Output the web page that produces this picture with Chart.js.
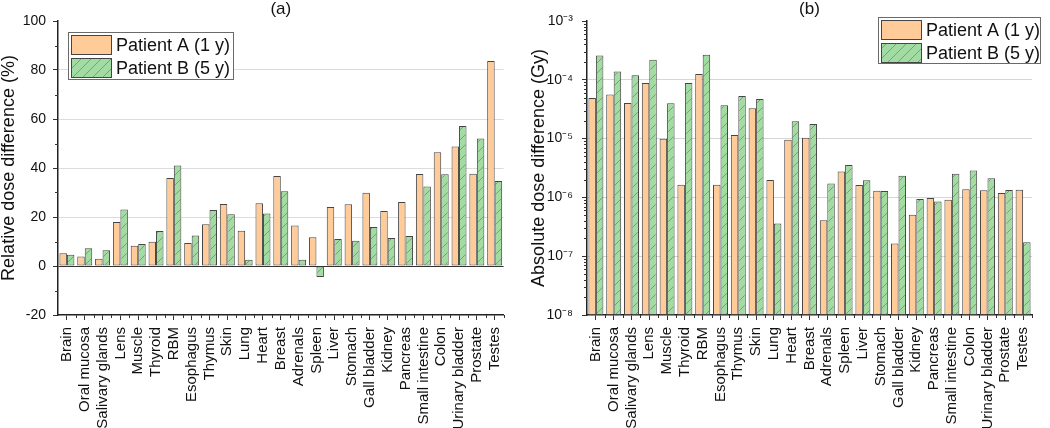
<!DOCTYPE html>
<html>
<head>
<meta charset="utf-8">
<script src="https://cdn.jsdelivr.net/npm/chart.js@4.4.0/dist/chart.umd.min.js"></script>
<style>
  body { margin: 0; background: #fff; }
  #wrap { position: relative; width: 1050px; height: 428px; }
  canvas { position: absolute; top: 0; }
  #chartA { left: 0; }
  #chartB { left: 520px; }
</style>
</head>
<body>
<div id="wrap">
  <canvas id="chartA" width="520" height="428"></canvas>
  <canvas id="chartB" width="530" height="428"></canvas>
</div>
<script>
const organs = [
  "Brain", "Oral mucosa", "Salivary glands", "Lens", "Muscle", "Thyroid", "RBM",
  "Esophagus", "Thymus", "Skin", "Lung", "Heart", "Breast", "Adrenals", "Spleen",
  "Liver", "Stomach", "Gall bladder", "Kidney", "Pancreas", "Small intestine",
  "Colon", "Urinary bladder", "Prostate", "Testes",
];

// (a) relative dose difference, %
const relA = [5.2, 3.9, 3.0, 18.0, 8.3, 9.9, 35.9, 9.4, 17.0, 25.3, 14.4, 25.6, 36.7,
  16.5, 11.7, 24.1, 25.2, 29.9, 22.4, 26.1, 37.6, 46.4, 48.8, 37.7, 83.7];
const relB = [4.6, 7.2, 6.4, 23.1, 9.0, 14.3, 41.0, 12.5, 22.9, 21.1, 2.6, 21.4, 30.5,
  2.6, -4.5, 11.0, 10.3, 15.9, 11.4, 12.2, 32.4, 37.4, 57.1, 52.0, 34.7];

// (b) absolute dose difference, Gy
const absA = [4.9e-5, 5.6e-5, 4.05e-5, 8.8e-5, 9.9e-6, 1.64e-6, 1.26e-4, 1.64e-6, 1.15e-5,
  3.29e-5, 1.97e-6, 9.6e-6, 1.03e-5, 4.1e-7, 2.77e-6, 1.62e-6, 1.3e-6, 1.64e-7, 5.07e-7,
  9.75e-7, 9.1e-7, 1.37e-6, 1.32e-6, 1.19e-6, 1.35e-6];
const absB = [2.6e-4, 1.39e-4, 1.19e-4, 2.19e-4, 4.0e-5, 8.8e-5, 2.67e-4, 3.7e-5, 5.3e-5,
  4.7e-5, 3.6e-7, 1.97e-5, 1.78e-5, 1.73e-6, 3.56e-6, 1.95e-6, 1.28e-6, 2.34e-6, 9.4e-7,
  8.55e-7, 2.53e-6, 2.88e-6, 2.11e-6, 1.33e-6, 1.73e-7];

const seriesNames = ["Patient A (1 y)", "Patient B (5 y)"];
const relTicks = [-20, 0, 20, 40, 60, 80, 100];
const absTicks = [1e-8, 1e-7, 1e-6, 1e-5, 1e-4, 1e-3];

const FONT = "'Liberation Sans', Arial, sans-serif";
const ORANGE = "#ffcb99";
const EDGE = "#454545";

function hatch() {
  const p = document.createElement("canvas");
  p.width = 10;
  p.height = 10;
  const g = p.getContext("2d");
  g.fillStyle = "#a2dca2";
  g.fillRect(0, 0, 10, 10);
  g.strokeStyle = "#5f9c5f";
  g.lineWidth = 0.8;
  g.beginPath();
  g.moveTo(0, 10); g.lineTo(10, 0);
  g.moveTo(-5, 5); g.lineTo(5, -5);
  g.moveTo(5, 15); g.lineTo(15, 5);
  g.stroke();
  return g.createPattern(p, "repeat");
}
const GREEN = hatch();

const sup = { "-": "\u207B", "0": "\u2070", "1": "\u00B9", "2": "\u00B2", "3": "\u00B3",
  "4": "\u2074", "5": "\u2075", "6": "\u2076", "7": "\u2077", "8": "\u2078", "9": "\u2079" };
const powLabel = (v) => "10" + String(Math.round(Math.log10(v))).split("").map((ch) => sup[ch]).join("");

// panel letter, minor ticks and the boxed legend
const panelDecor = {
  id: "panelDecor",
  afterDraw(chart, args, opts) {
    const c = chart.ctx;
    const area = chart.chartArea;
    const xs = chart.scales.x;
    const ys = chart.scales.y;
    c.save();
    c.strokeStyle = "#333";
    c.lineWidth = 1;
    c.beginPath();
    opts.minorY.forEach((v) => {
      const py = Math.round(ys.getPixelForValue(v)) + 0.5;
      c.moveTo(area.left - 3, py);
      c.lineTo(area.left, py);
    });
    for (let i = 1; i <= organs.length; i++) {
      const px = Math.round(xs.getPixelForValue(i - 0.5)) + 0.5;
      c.moveTo(px, area.bottom);
      c.lineTo(px, area.bottom + 3);
    }
    c.stroke();

    c.fillStyle = "#111";
    c.font = "17px " + FONT;
    c.textAlign = "center";
    c.textBaseline = "middle";
    c.fillText(opts.title, (area.left + area.right) / 2, 9);

    const lg = opts.legend;
    c.fillStyle = "#fff";
    c.fillRect(lg.x, lg.y, lg.w, lg.h);
    c.strokeStyle = "#6a6a6a";
    c.strokeRect(lg.x + 0.5, lg.y + 0.5, lg.w, lg.h);
    c.font = "18px " + FONT;
    c.textAlign = "left";
    chart.data.datasets.forEach((ds, i) => {
      const sy = lg.y + 3 + i * 23;
      c.fillStyle = ds.backgroundColor;
      c.fillRect(lg.x + 3, sy, 40, 19);
      c.strokeStyle = EDGE;
      c.strokeRect(lg.x + 3.5, sy + 0.5, 40, 19);
      c.fillStyle = "#111";
      c.fillText(ds.label, lg.x + 48, sy + 11);
    });
    c.restore();
  },
};

function datasets(a, b) {
  return [
    { label: seriesNames[0], data: a, backgroundColor: ORANGE },
    { label: seriesNames[1], data: b, backgroundColor: GREEN },
  ];
}

function xScale() {
  return {
    afterFit(s) { s.height = 113; },
    border: { color: "#222", width: 1.5 },
    grid: { drawOnChartArea: false, offset: false, tickLength: 5, tickColor: "#333" },
    ticks: {
      autoSkip: false, maxRotation: 90, minRotation: 90, padding: 7,
      color: "#111", font: { family: FONT, size: 15 },
    },
  };
}

const common = {
  responsive: false,
  animation: false,
  datasets: {
    bar: { categoryPercentage: 0.84, barPercentage: 1, borderWidth: 1, borderColor: EDGE, borderSkipped: false },
  },
  plugins: { legend: { display: false }, tooltip: { enabled: false } },
};

new Chart(document.getElementById("chartA"), {
  type: "bar",
  data: { labels: organs, datasets: datasets(relA, relB) },
  options: {
    ...common,
    layout: { padding: { top: 21, right: 16, left: 0, bottom: 0 } },
    scales: {
      x: xScale(),
      y: {
        min: -20,
        max: 100,
        afterFit(s) { s.width = 58; },
        afterBuildTicks(s) { s.ticks = relTicks.map((v) => ({ value: v })); },
        border: { color: "#222", width: 1.5 },
        grid: {
          color: (c) => (c.tick.value === 0 ? "#333" : c.tick.value > -20 && c.tick.value < 100 ? "#dcdcdc" : "rgba(0,0,0,0)"),
          tickColor: "#333",
          tickLength: 5,
        },
        ticks: { padding: 7, color: "#111", font: { family: FONT, size: 14 } },
        title: {
          display: true, text: "Relative dose difference (%)", color: "#111",
          font: { family: FONT, size: 18 }, padding: { top: -2, bottom: 0 },
        },
      },
    },
    plugins: {
      ...common.plugins,
      panelDecor: {
        title: "(a)",
        minorY: [-10, 10, 30, 50, 70, 90],
        legend: { x: 68, y: 32, w: 165, h: 47 },
      },
    },
  },
  plugins: [panelDecor],
});

const minorLog = [];
absTicks.slice(0, -1).forEach((d) => {
  for (let k = 2; k <= 9; k++) minorLog.push(k * d);
});

new Chart(document.getElementById("chartB"), {
  type: "bar",
  data: { labels: organs, datasets: datasets(absA, absB) },
  options: {
    ...common,
    layout: { padding: { top: 21, right: 18, left: 0, bottom: 0 } },
    scales: {
      x: xScale(),
      y: {
        type: "logarithmic",
        min: 1e-8,
        max: 1e-3,
        afterFit(s) { s.width = 67; },
        afterBuildTicks(s) { s.ticks = absTicks.map((v) => ({ value: v })); },
        border: { color: "#222", width: 1.5 },
        grid: {
          color: (c) => (c.tick.value > 1e-8 * 1.5 && c.tick.value < 1e-3 * 0.9 ? "#d6d6d6" : "rgba(0,0,0,0)"),
          tickColor: "#333",
          tickLength: 5,
        },
        ticks: { padding: 9, color: "#111", font: { family: FONT, size: 14 }, callback: (v) => powLabel(v) },
        title: {
          display: true, text: "Absolute dose difference (Gy)", color: "#111",
          font: { family: FONT, size: 18 }, padding: { top: 8, bottom: 0 },
        },
      },
    },
    plugins: {
      ...common.plugins,
      panelDecor: {
        title: "(b)",
        minorY: minorLog,
        legend: { x: 358, y: 17, w: 162, h: 46 },
      },
    },
  },
  plugins: [panelDecor],
});
</script>
</body>
</html>
